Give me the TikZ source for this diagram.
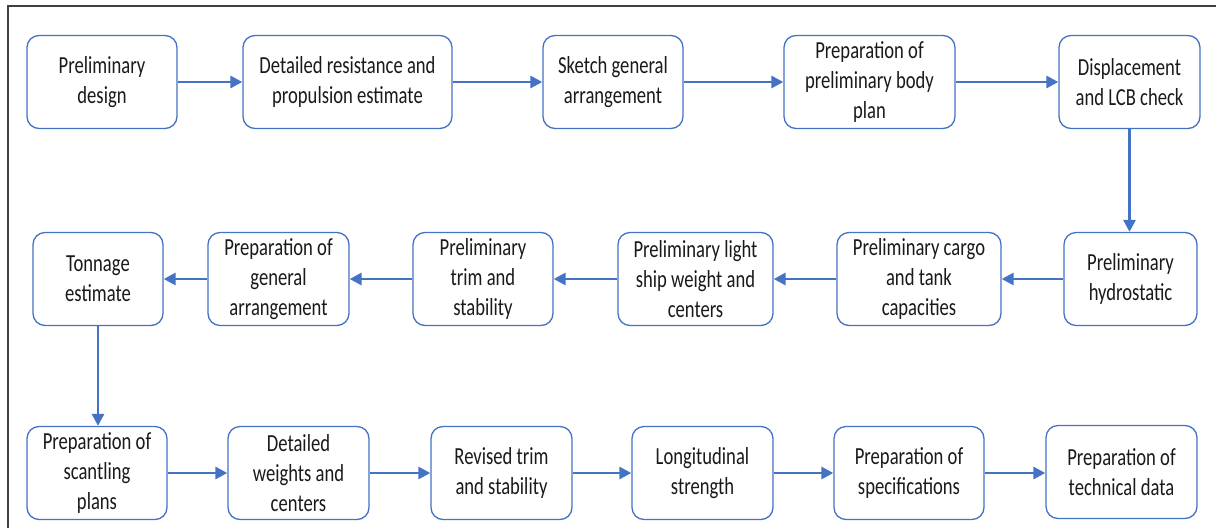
\documentclass[tikz,border=0pt]{standalone}
\usepackage{fontspec}
\setmainfont{Carlito}[FakeStretch=0.76]
\usetikzlibrary{arrows.meta}
\definecolor{flowblue}{HTML}{4472C4}
\definecolor{inkgray}{HTML}{1A1A1A}
\begin{document}
\begin{tikzpicture}[x=1pt,y=-1pt,
  stage/.style={draw=flowblue, line width=1.3pt, rounded corners=12pt, fill=white,
    align=center, inner sep=0pt, text=inkgray,
    font=\fontsize{24.5}{30}\selectfont, minimum height=93pt},
  flow/.style={draw=flowblue, line width=2.9pt, -{Triangle[length=12pt,width=12pt]}}]

\useasboundingbox (0,0) rectangle (1216,528);
% outer frame
\draw[line width=1.2pt, draw=black!75] (8,528) -- (8,6) -- (1216,6);

% first row
\node[stage, minimum width=150pt] (pd) at (102,82)    {Preliminary\\design};
\node[stage, minimum width=209pt] (dr) at (347.5,82)  {Detailed resistance and\\propulsion estimate};
\node[stage, minimum width=140pt] (sg) at (613,82)    {Sketch general\\arrangement};
\node[stage, minimum width=171pt] (pb) at (869.5,82)  {Preparation of\\preliminary body\\plan};
\node[stage, minimum width=141pt] (dl) at (1129.5,82) {Displacement\\and LCB check};

% second row
\node[stage, minimum width=133pt] (hy) at (1130.5,279) {Preliminary\\hydrostatic};
\node[stage, minimum width=164pt] (cg) at (919,279)    {Preliminary cargo\\and tank\\capacities};
\node[stage, minimum width=155pt] (ls) at (695.5,279)  {Preliminary light\\ship weight and\\centers};
\node[stage, minimum width=140pt] (tr) at (483,279)    {Preliminary\\trim and\\stability};
\node[stage, minimum width=141pt] (ga) at (278.5,279)  {Preparation of\\general\\arrangement};
\node[stage, minimum width=130pt] (tn) at (98,279)     {Tonnage\\estimate};

% third row
\node[stage, minimum width=140pt] (sc) at (97,473)    {Preparation of\\scantling\\plans};
\node[stage, minimum width=141pt] (dw) at (298.5,473) {Detailed\\weights and\\centers};
\node[stage, minimum width=141pt] (rt) at (501.5,473) {Revised trim\\and stability};
\node[stage, minimum width=141pt] (lg) at (702.5,473) {Longitudinal\\strength};
\node[stage, minimum width=150pt] (sp) at (909,473)   {Preparation of\\specifications};
\node[stage, minimum width=151pt] (td) at (1121.5,472) {Preparation of\\technical data};

% connectors
\draw[flow] (pd) -- (dr);
\draw[flow] (dr) -- (sg);
\draw[flow] (sg) -- (pb);
\draw[flow] (pb) -- (dl);
\draw[flow] (dl.south) -- (dl.south |- hy.north);
\draw[flow] (hy) -- (cg);
\draw[flow] (cg) -- (ls);
\draw[flow] (ls) -- (tr);
\draw[flow] (tr) -- (ga);
\draw[flow] (ga) -- (tn);
\draw[flow] (tn.south) -- (tn.south |- sc.north);
\draw[flow] (sc) -- (dw);
\draw[flow] (dw) -- (rt);
\draw[flow] (rt) -- (lg);
\draw[flow] (lg) -- (sp);
\draw[flow] (sp.east) -- (td.west |- sp.east);
\end{tikzpicture}
\end{document}
